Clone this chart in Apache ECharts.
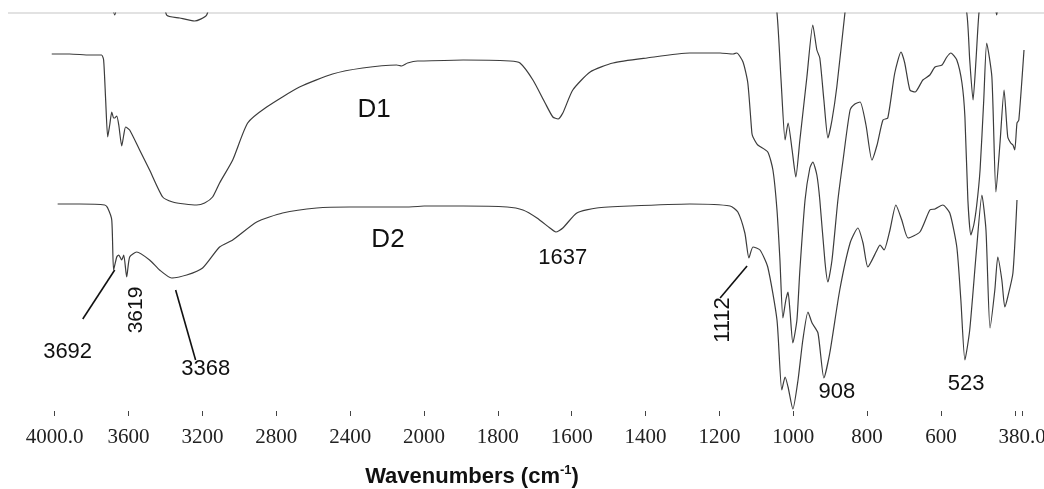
<!DOCTYPE html>
<html><head><meta charset="utf-8">
<script src="https://cdn.jsdelivr.net/npm/echarts@6/dist/echarts.min.js"></script>
<style>html,body{margin:0;padding:0;background:#fff}#c{width:1044px;height:489px}</style>
</head><body><div id="c"></div>
<script>
// ---- Data (wavenumber in cm-1, transmittance in arbitrary offset units) ----
const d1Wave = [4016,3919,3810,3746,3735,3724,3713,3702,3691,3681,3675,3664,3653,3637,3626,3616,3594,3540,3486,3415,3361,3296,3231,3188,3145,3107,3036,2955,2852,2674,2495,2332,2148,2121,2089,2035,2000,1894,1767,1740,1705,1672,1651,1637,1624,1597,1550,1488,1396,1280,1198,1163,1153,1136,1123,1112,1109,1096,1069,1055,1044,1036,1028,1020,1014,1009,1001,990,982,968,955,947,936,928,914,906,895,879,865,846,833,819,803,787,773,757,744,725,708,698,684,670,649,630,616,597,584,573,557,543,535,527,519,511,503,494,484,476,462,451,440,429,419,411,405,400,394,389,375];
const d1T = [357,357,356,356,351,311,274,286,299,293,293,295,286,265,276,284,281,261,241,214,209,207,206,208,214,228,251,288,304,324,337,343,346,345,348,350,350,351,350,348,331,308,294,292,298,321,339,348,353,358,358,357,358,349,328,278,274,266,259,241,201,151,93,111,119,101,68,91,141,211,243,249,236,211,149,129,151,211,251,301,307,309,286,251,266,291,293,338,359,348,321,319,331,336,344,346,354,358,351,328,294,211,176,186,206,241,311,368,334,219,268,321,274,268,266,261,288,291,361];

const d2Wave = [3984,3865,3729,3713,3691,3681,3664,3653,3637,3626,3610,3594,3556,3486,3432,3367,3285,3199,3107,3036,2906,2766,2581,2403,2094,2000,1894,1775,1732,1694,1659,1643,1624,1586,1532,1442,1280,1171,1150,1131,1120,1109,1090,1069,1044,1031,1022,1014,1001,987,974,960,949,933,917,901,874,846,825,811,798,773,765,754,738,722,706,689,657,630,616,595,576,557,546,535,522,503,489,478,467,454,446,435,427,419,405,394];
const d2T = [207,207,206,203,191,141,154,156,151,156,134,154,159,151,141,133,136,143,164,171,189,198,203,204,204,205,205,204,201,193,183,179,183,198,203,205,207,205,199,178,153,164,161,144,91,21,34,24,2,31,71,99,88,78,33,58,121,168,183,168,144,161,166,161,181,206,191,173,179,201,202,206,198,164,111,51,81,164,216,181,83,121,154,131,104,114,138,211];

// spectrum above D1, mostly outside the plotted window
const d0Wave = [4020,3720,3675,3630,3450,3394,3323,3242,3177,3100,2000,1063,1044,1033,1022,1014,1003,993,982,963,947,936,928,917,906,895,882,860,846,560,530,522,513,505,497,481,460,449,438,375];
const d0T = [470,430,396,430,440,396,393,390,396,440,520,440,398,331,271,288,261,234,271,334,386,361,353,311,273,291,324,398,440,440,398,351,311,351,398,440,420,396,420,440];

const hiTicks = [4000,3600,3200,2800,2400];
const loTicks = [2000,1800,1600,1400,1200,1000,800,600,400,380];
const loLabels = [2000,1800,1600,1400,1200,1000,800,600,380];

// ---- build ----
function part(w, t, hi) {
  const out = [];
  for (let i = 0; i < w.length; i++) {
    if (hi ? w[i] >= 2000 : w[i] <= 2000) out.push([w[i], t[i]]);
  }
  return out;
}
const fmt = v => (v === 4000 || v === 380) ? v.toFixed(1) : String(v);
const lineColor = '#3c3c3c';
const labelFont = {fontFamily: 'Liberation Serif', fontSize: 21, color: '#222'};

function xa(gi, min, max, ticks, labels) {
  return {
    type: 'value', gridIndex: gi, min: min, max: max, inverse: true,
    axisLine: {show: false}, splitLine: {show: false},
    axisTick: {show: true, length: 5, customValues: ticks, lineStyle: {color: '#444', width: 1}},
    axisLabel: Object.assign({show: true, margin: 16, customValues: labels, formatter: fmt, hideOverlap: false}, labelFont)
  };
}
function ya(gi) { return {type: 'value', gridIndex: gi, min: 0, max: 398, show: false}; }
function ser(name, gi, data) {
  return {name: name, type: 'line', xAxisIndex: gi, yAxisIndex: gi, data: data,
    showSymbol: false, smooth: 0.2, clip: true, silent: true,
    lineStyle: {color: lineColor, width: 1.2}};
}

const chart = echarts.init(document.getElementById('c'));
chart.setOption({
  animation: false,
  backgroundColor: '#fff',
  grid: [
    {left: 51, top: 13, width: 373, height: 398, containLabel: false, outerBoundsMode: 'none'},
    {left: 424, top: 13, width: 600, height: 398, containLabel: false, outerBoundsMode: 'none'}
  ],
  xAxis: [xa(0, 2000, 4020, hiTicks, hiTicks), xa(1, 375, 2000, loTicks, loLabels)],
  yAxis: [ya(0), ya(1)],
  series: [
    ser('D1', 0, part(d1Wave, d1T, true)), ser('D1', 1, part(d1Wave, d1T, false)),
    ser('D2', 0, part(d2Wave, d2T, true)), ser('D2', 1, part(d2Wave, d2T, false)),
    ser('D0', 0, part(d0Wave, d0T, true)), ser('D0', 1, part(d0Wave, d0T, false))
  ]
});

// ---- annotations anchored in data coordinates ----
const P = (g, p) => chart.convertToPixel({gridIndex: g}, p);
const txt = (g, p, s, size, rot) => {
  const q = P(g, p);
  return {type: 'text', x: q[0], y: q[1], rotation: rot || 0, silent: true,
    style: {text: s, fontFamily: 'Liberation Sans', fontSize: size, fill: '#111',
      align: 'center', verticalAlign: 'middle'}};
};
const ln = (g, a, b) => {
  const p = P(g, a), q = P(g, b);
  return {type: 'line', silent: true, shape: {x1: p[0], y1: p[1], x2: q[0], y2: q[1]},
    style: {stroke: '#111', lineWidth: 1.6}};
};
chart.setOption({graphic: [
  {type: 'line', silent: true, shape: {x1: 8, y1: 13, x2: 1044, y2: 13}, style: {stroke: '#e2e2e2', lineWidth: 2}},
  txt(0, [2270, 301], 'D1', 26),
  txt(0, [2195, 171], 'D2', 26),
  txt(0, [3930, 59], '3692', 22),
  txt(0, [3561, 101], '3619', 21, Math.PI / 2),
  txt(0, [3182, 42], '3368', 22),
  txt(1, [1624, 153], '1637', 22),
  txt(1, [1190, 91], '1112', 22, Math.PI / 2),
  txt(1, [882, 19], '908', 22),
  txt(1, [532, 27], '523', 22),
  ln(0, [3675, 141], [3848, 92]),
  ln(0, [3345, 121], [3237, 51]),
  ln(1, [1125, 145], [1198, 113]),
  {type: 'text', x: 472, y: 477, silent: true,
    style: {text: '{a|Wavenumbers (cm}{s|-1}{a|)}', align: 'center', verticalAlign: 'middle',
      rich: {a: {fontFamily: 'Liberation Sans', fontWeight: 'bold', fontSize: 22, fill: '#111', lineHeight: 26},
             s: {fontFamily: 'Liberation Sans', fontWeight: 'bold', fontSize: 13, fill: '#111', lineHeight: 26, verticalAlign: 'top'}}}}
]});
</script>
</body></html>
